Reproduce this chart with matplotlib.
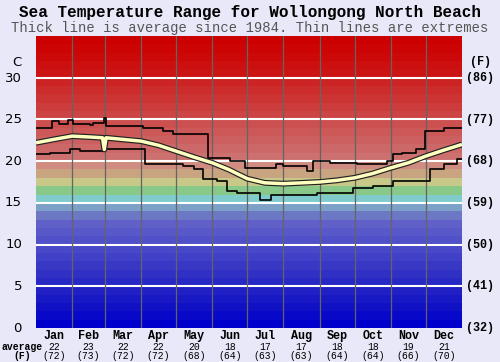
import matplotlib
matplotlib.use("Agg")
import matplotlib.pyplot as plt
import matplotlib.transforms as mtransforms
import numpy as np

# ---------------- data ----------------
months = ["Jan", "Feb", "Mar", "Apr", "May", "Jun", "Jul", "Aug", "Sep", "Oct", "Nov", "Dec"]
month_avg_c = [22, 23, 22, 22, 20, 18, 17, 17, 18, 18, 19, 21]
month_avg_f = [72, 73, 72, 72, 68, 64, 63, 63, 64, 64, 66, 70]
month_lengths = [31, 28, 31, 30, 31, 30, 31, 31, 30, 31, 30, 31]

avg_days = [0, 15, 31, 45, 57, 58.5, 60, 75, 90, 105, 120, 135, 151, 165, 181,
            196, 212, 228, 243, 258, 273, 288, 304, 319, 334, 349, 365]
avg_vals = [22.2, 22.6, 23.0, 22.9, 22.8, 21.4, 22.8, 22.6, 22.4, 21.9, 21.2, 20.5, 19.8,
            19.0, 17.9, 17.4, 17.3, 17.4, 17.5, 17.7, 18.0, 18.5, 19.2, 19.8, 20.6, 21.3, 22.0]

max_days = [0, 14, 20, 27, 32, 46, 49, 58, 60, 92, 109, 117, 147, 166, 179, 206, 212,
            232, 237, 252, 275, 301, 306, 314, 326, 333, 350, 365]
max_vals = [24.0, 24.8, 24.4, 24.9, 24.5, 24.3, 24.6, 25.2, 24.2, 24.0, 23.6, 23.2, 20.4,
            20.0, 19.2, 19.7, 19.4, 18.8, 20.0, 19.8, 19.6, 20.0, 20.8, 21.0, 21.4, 23.6,
            24.0, 24.0]

min_days = [0, 12, 29, 38, 57, 93, 126, 135, 143, 155, 164, 172, 192, 201, 241, 272,
            289, 306, 338, 350, 361, 365]
min_vals = [20.8, 21.0, 21.4, 21.2, 21.4, 19.6, 19.4, 19.0, 17.8, 17.6, 16.4, 16.2, 15.4,
            16.0, 16.2, 16.8, 17.0, 17.6, 19.0, 19.6, 20.2, 20.2]

y_ticks_c = [0, 5, 10, 15, 20, 25, 30]
y_ticks_f = ["(32)", "(41)", "(50)", "(59)", "(68)", "(77)", "(86)"]

# ---------------- style ----------------
band_colors = [
    "#0000cc", "#0808c8", "#1010c4", "#1818c4", "#2020c4", "#2828c4", "#3030c4",
    "#3838c4", "#4040c8", "#4848c8", "#5050c8", "#5858c8", "#6060c8", "#6c78c4",
    "#7ca0c8", "#80cccc", "#88c888", "#c8c888", "#c8a480", "#d08c80", "#cc7070",
    "#cc6868", "#cc6060", "#cc5858", "#cc5050", "#cc4444", "#cc3c3c", "#cc3434",
    "#cc2c2c", "#cc2424", "#cc1414", "#cc1010", "#cc0808", "#cc0404", "#cc0000",
]
bg = "#e8e8f8"
mono = ["Liberation Mono", "DejaVu Sans Mono"]

fig = plt.figure(figsize=(5.0, 3.62), dpi=100, facecolor=bg)
ax = fig.add_axes([0.072, 0.0939, 0.852, 0.8067])
ax.set_xlim(0, 365)
ax.set_ylim(0, 35)

for i, c in enumerate(band_colors):
    ax.axhspan(i, i + 1, color=c, lw=0, zorder=0)

for t in y_ticks_c[1:]:
    ax.axhline(t, color="white", lw=1.5, zorder=1)

bounds = np.cumsum(month_lengths)[:-1]
for b in bounds:
    ax.axvline(b, color="#646464", lw=0.9, zorder=1)

ax.step(max_days, max_vals, where="post", color="black", lw=1.2, zorder=3)
ax.step(min_days, min_vals, where="post", color="black", lw=1.2, zorder=3)
ax.plot(avg_days, avg_vals, color="#222222", lw=4.2, zorder=4, solid_capstyle="butt")
ax.plot(avg_days, avg_vals, color="#ffffc0", lw=2.5, zorder=5, solid_capstyle="butt")

ax.set_xticks([])
ax.set_yticks([])
for s in ax.spines.values():
    s.set_visible(False)

# left tick labels
for t in y_ticks_c:
    fig.text(22 / 500, 1 - (328 - t * 250 / 30) / 362, str(t), ha="right", va="center",
             fontsize=9.5, family="DejaVu Sans", color="black")
fig.text(17 / 500, 1 - 62 / 362, "C", ha="center", va="center", fontsize=9.5,
         family="DejaVu Sans")

# right labels
for t, lab in zip(y_ticks_c, y_ticks_f):
    fig.text(480 / 500, 1 - (328 - t * 250 / 30) / 362, lab, ha="center", va="center",
             fontsize=8.5, family=mono, weight="bold")
fig.text(480 / 500, 1 - 62 / 362, "(F)", ha="center", va="center", fontsize=8.5,
         family=mono, weight="bold")

# bottom labels
trans = mtransforms.blended_transform_factory(ax.transData, fig.transFigure)
starts = np.concatenate([[0], np.cumsum(month_lengths)[:-1]])
for m, s, l, c, f in zip(months, starts, month_lengths, month_avg_c, month_avg_f):
    xm = s + l / 2
    ax.text(xm, 1 - 336 / 362, m, transform=trans, ha="center", va="center",
            fontsize=8.5, family=mono, weight="bold", clip_on=False)
    ax.text(xm, 1 - 347 / 362, str(c), transform=trans, ha="center", va="center",
            fontsize=7, family=mono, clip_on=False)
    ax.text(xm, 1 - 356 / 362, "(%d)" % f, transform=trans, ha="center", va="center",
            fontsize=7, family=mono, clip_on=False)
fig.text(22 / 500, 1 - 347 / 362, "average", ha="center", va="center", fontsize=7,
         family=mono, weight="bold")
fig.text(22 / 500, 1 - 356 / 362, "(F)", ha="center", va="center", fontsize=7,
         family=mono, weight="bold")

# titles
fig.text(0.5, 1 - 13 / 362, "Sea Temperature Range for Wollongong North Beach",
         ha="center", va="center", fontsize=11.5, family=mono, weight="bold")
fig.text(0.5, 1 - 28 / 362, "Thick line is average since 1984. Thin lines are extremes",
         ha="center", va="center", fontsize=10, family=mono, color="#555555")

fig.savefig("out.png", dpi=100, facecolor=bg)
